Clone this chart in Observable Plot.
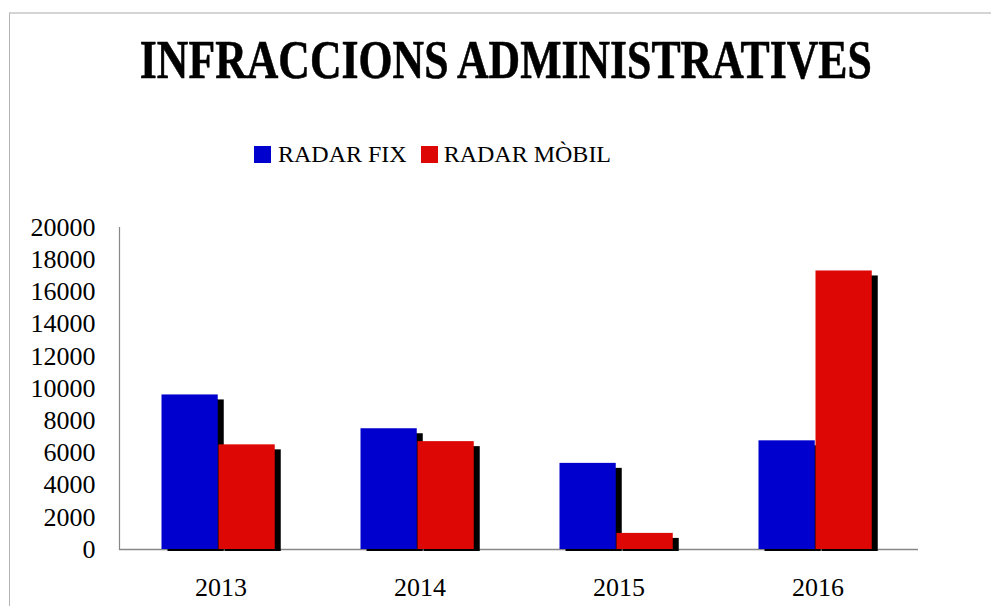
<!DOCTYPE html>
<html>
<head>
<meta charset="utf-8">
<script src="https://cdn.jsdelivr.net/npm/d3@7"></script>
<script src="https://cdn.jsdelivr.net/npm/@observablehq/plot@0.6"></script>
<style>
  html, body { margin: 0; padding: 0; background: #fff; }
  #wrap { position: relative; width: 991px; height: 606px; overflow: hidden; font-family: "Liberation Serif", "DejaVu Serif", serif; }
  #border { position: absolute; left: 9px; top: 12px; width: 1200px; height: 800px; border-left: 1px solid #b4b4b4; border-top: 2px solid #d4d4d4; }
  #header { position: relative; height: 200px; }
  #title { position: absolute; left: 0; width: 991px; top: 33px; text-align: center; }
  #title span { display: inline-block; font-weight: bold; font-size: 54px; line-height: 1; transform: scaleX(0.81); transform-origin: 50% 50%; white-space: nowrap; color: #000; position: relative; left: 10px; -webkit-text-stroke: 0.6px #000; }
  #legend { position: absolute; top: 139px; left: 254px; font-size: 24px; line-height: 30px; white-space: nowrap; color: #000; }
  .sw { display: inline-block; width: 17px; height: 17px; vertical-align: -1px; }
  svg { display: block; }
</style>
</head>
<body>
<div id="wrap">
  <div id="border"></div>
  <div id="header">
    <div id="title"><span>INFRACCIONS ADMINISTRATIVES</span></div>
    <div id="legend"></div>
  </div>
  <div id="chart"></div>
</div>
<script>
const years = ["2013", "2014", "2015", "2016"];
const seriesNames = ["RADAR FIX", "RADAR MÒBIL"];
const radarFix = [9600, 7500, 5350, 6750];
const radarMobil = [6500, 6700, 1000, 17300];
const yTicks = [0, 2000, 4000, 6000, 8000, 10000, 12000, 14000, 16000, 18000, 20000];
const colors = ["#0000CE", "#DD0805"];

const fixData = years.map((y, i) => ({year: y, value: radarFix[i]}));
const mobilData = years.map((y, i) => ({year: y, value: radarMobil[i]}));

// legend
const legend = document.getElementById("legend");
legend.innerHTML =
  `<span class="sw" style="background:${colors[0]}"></span><span style="margin-left:7px">${seriesNames[0]}</span>` +
  `<span class="sw" style="background:${colors[1]};margin-left:14px"></span><span style="margin-left:6px">${seriesNames[1]}</span>`;

const fixInset = {insetLeft: 40.5, insetRight: 102.25};
const mobInset = {insetLeft: 97.5, insetRight: 45.25};

const chart = Plot.plot({
  width: 991,
  height: 406,
  marginLeft: 119,
  marginRight: 73,
  marginTop: 27,
  marginBottom: 57,
  style: {fontFamily: "'Liberation Serif', serif", fontSize: "26px", color: "#000", background: "transparent"},
  x: {domain: years, padding: 0, label: null},
  y: {domain: [0, 20000], label: null},
  marks: [
    Plot.ruleY([0], {stroke: "#878787", strokeWidth: 1.5}),
    Plot.frame({anchor: "left", stroke: "#878787", strokeWidth: 1.2}),
    Plot.barY(fixData, {x: "year", y: "value", fill: "#000", dx: 6, dy: 2, insetTop: 3, ...fixInset}),
    Plot.barY(mobilData, {x: "year", y: "value", fill: "#000", dx: 6, dy: 2, insetTop: 3, ...mobInset}),
    Plot.barY(fixData, {x: "year", y: "value", fill: colors[0], ...fixInset}),
    Plot.barY(mobilData, {x: "year", y: "value", fill: colors[1], ...mobInset}),
    Plot.axisY({ticks: yTicks, tickSize: 0, tickPadding: 24, tickFormat: d => String(d), fontSize: 26, label: null}),
    Plot.axisX({tickSize: 0, tickPadding: 28.5, fontSize: 26, label: null})
  ]
});
document.getElementById("chart").appendChild(chart);
</script>
</body>
</html>
